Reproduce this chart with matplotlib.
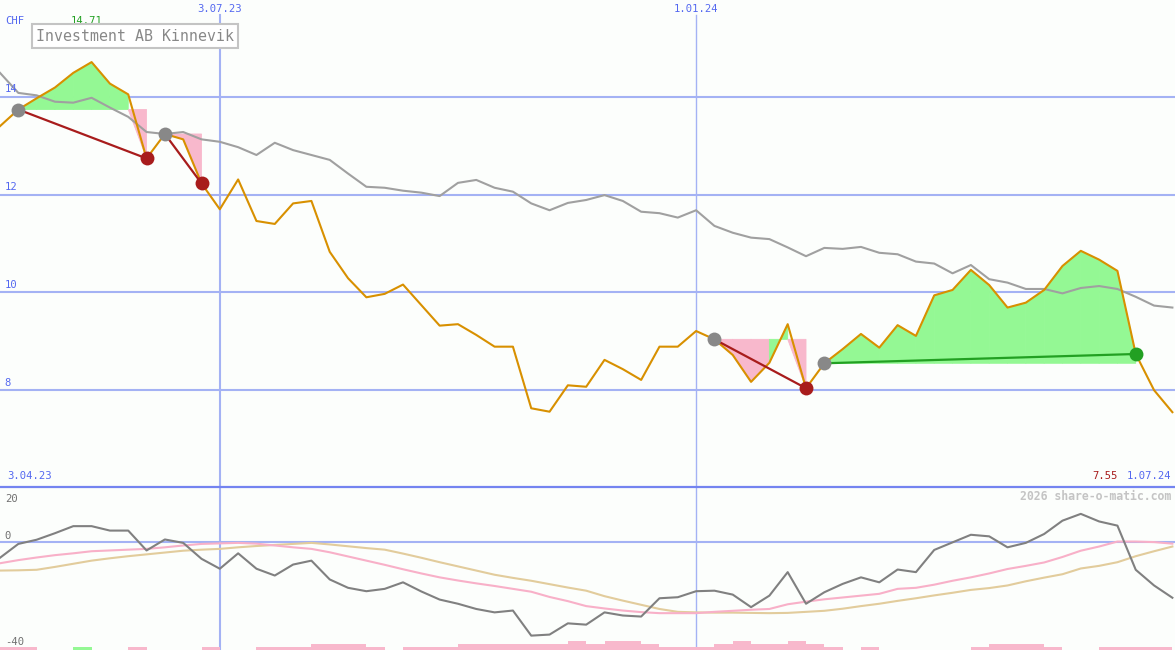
import numpy as np
import pandas as pd
import matplotlib
matplotlib.use('Agg')
import matplotlib.pyplot as plt
import matplotlib.dates as mdates
from matplotlib.patches import Rectangle
from matplotlib.lines import Line2D

# weekly closing prices (CHF)
dates = pd.date_range('2023-04-10', periods=65, freq='7D')
price = [13.40, 13.74, 13.97, 14.19, 14.49, 14.71, 14.27, 14.05, 12.74, 13.24,
         13.13, 12.23, 11.70, 12.31, 11.46, 11.40, 11.82, 11.87, 10.83, 10.29,
         9.90, 9.97, 10.16, 9.74, 9.32, 9.35, 9.13, 8.89, 8.89, 7.63,
         7.56, 8.10, 8.07, 8.62, 8.43, 8.21, 8.89, 8.89, 9.21, 9.04,
         8.72, 8.17, 8.56, 9.35, 8.04, 8.55, 8.84, 9.15, 8.87, 9.33,
         9.11, 9.94, 10.05, 10.46, 10.15, 9.69, 9.79, 10.05, 10.54, 10.85,
         10.67, 10.44, 8.74, 8.00, 7.55]
avg_line = [14.49, 14.08, 14.03, 13.90, 13.88, 13.98, 13.78, 13.59, 13.28, 13.24,
            13.28, 13.13, 13.08, 12.97, 12.81, 13.06, 12.91, 12.81, 12.71, 12.43,
            12.16, 12.14, 12.08, 12.04, 11.97, 12.24, 12.30, 12.14, 12.06, 11.82,
            11.68, 11.83, 11.89, 11.99, 11.87, 11.65, 11.62, 11.53, 11.68, 11.36,
            11.22, 11.12, 11.09, 10.92, 10.74, 10.91, 10.89, 10.93, 10.81, 10.78,
            10.63, 10.59, 10.39, 10.56, 10.27, 10.20, 10.07, 10.07, 9.98, 10.09,
            10.13, 10.07, 9.91, 9.73, 9.69]

# lower panel indicator
osc = [-6.2, -0.9, 0.7, 3.2, 5.9, 5.9, 4.2, 4.2, -3.4, 0.8,
       -0.5, -6.6, -10.4, -4.5, -10.4, -13.0, -8.8, -7.3, -14.5, -17.7,
       -19.0, -18.1, -15.6, -19.1, -22.2, -23.8, -25.8, -27.1, -26.4, -36.0,
       -35.6, -31.3, -31.8, -27.1, -28.3, -28.7, -21.7, -21.3, -19.0, -18.8,
       -20.3, -25.1, -20.7, -11.7, -23.8, -19.4, -16.2, -13.7, -15.6, -10.7,
       -11.7, -3.2, -0.3, 2.6, 2.0, -2.2, -0.5, 2.9, 8.0, 10.6,
       7.7, 6.1, -10.8, -16.8, -21.5]
osc_fast = [-8.3, -7.1, -6.1, -5.2, -4.5, -3.7, -3.4, -3.1, -2.8, -2.2,
            -1.5, -0.9, -0.7, -0.5, -0.8, -1.5, -2.2, -2.8, -4.1, -5.7,
            -7.3, -8.9, -10.6, -12.2, -13.7, -14.9, -16.0, -17.0, -18.1, -19.2,
            -21.2, -22.8, -24.7, -25.6, -26.4, -27.0, -27.4, -27.4, -27.4, -26.9,
            -26.5, -26.1, -25.8, -24.0, -23.0, -22.1, -21.4, -20.7, -20.0, -18.1,
            -17.7, -16.5, -15.0, -13.7, -12.2, -10.5, -9.3, -8.0, -5.9, -3.5,
            -1.9, 0.0, 0.0, -0.2, -0.8]
osc_slow = [-11.1, -11.0, -10.8, -9.7, -8.5, -7.3, -6.4, -5.6, -4.9, -4.2,
            -3.5, -3.1, -2.8, -2.2, -1.7, -1.3, -0.9, -0.5, -1.1, -1.8,
            -2.5, -3.1, -4.6, -6.2, -7.9, -9.5, -11.1, -12.7, -13.9, -15.0,
            -16.3, -17.6, -18.8, -20.9, -22.6, -24.2, -25.8, -26.9, -27.1, -27.2,
            -27.2, -27.3, -27.4, -27.3, -26.9, -26.5, -25.7, -24.7, -23.8, -22.7,
            -21.7, -20.6, -19.6, -18.5, -17.8, -16.8, -15.2, -13.8, -12.5, -10.3,
            -9.3, -7.9, -5.6, -3.7, -1.9]
# weekly signal bars (+ green, - pink), one per week interval
signal = [-1, -1, 0, 0, 1, 0, 0, -1, 0, 0, 0, -1, 0, 0, -1, -1, -1, -2, -2, -2,
          -1, 0, -1, -1, -1, -2, -2, -2, -2, -2, -2, -3, -2, -3, -3, -2, -1, -1, -1, -2,
          -3, -2, -2, -3, -2, -1, 0, -1, 0, 0, 0, 0, 0, -1, -2, -2, -2, -1, 0, 0,
          -1, -1, -1, -1]

# trades: (entry week, exit week)
trades = [(1, 8), (9, 11), (39, 44), (45, 62)]
marks = ['2023-07-03', '2024-01-01']

bg = '#fcfefc'
blue = '#5468f0'
grid_c = '#a4b2f4'
green_fill = '#94f894'
pink_fill = '#f8b8cc'
loss_c = '#a81c1c'
win_c = '#22a022'
mono = 'DejaVu Sans Mono'

W, H = 1175, 650
fig = plt.figure(figsize=(W / 100, H / 100), dpi=100, facecolor=bg)
ax = fig.add_axes([0, 1 - 487 / H, 1, 487 / H])
ax2 = fig.add_axes([0, 0, 1, 162 / H])

xs = mdates.date2num(dates)
step = xs[1] - xs[0]
for a in (ax, ax2):
    a.set_facecolor(bg)
    a.set_xlim(xs[0], xs[-1] + 1)
    a.set_xticks([])
    a.set_yticks([])
    for s in a.spines.values():
        s.set_visible(False)

ax.set_ylim(6.02, 15.98)
ax2.set_ylim(-41.5, 20.5)

# grid
for v in [8, 10, 12, 14]:
    ax.axhline(v, color=grid_c, lw=1.5, zorder=0)
    ax.text(0.004, v + 0.05, str(v), transform=ax.get_yaxis_transform(),
            color=blue, fontsize=7.6, family=mono, va='bottom', ha='left')
ax2.axhline(0, color=grid_c, lw=1.5, zorder=0)
for k, m in enumerate(marks):
    d = pd.Timestamp(m)
    xm = mdates.date2num(d)
    ax.axvline(xm, ymin=0, ymax=1 - 15 / 487, color=grid_c, lw=1.5 if k == 0 else 1.0, zorder=0)
    ax2.axvline(xm, color=grid_c, lw=1.5 if k == 0 else 1.0, zorder=0)
    ax.text(xm, 1 - 9 / 487, f'{d.day}.{d.month:02d}.{d:%y}', transform=ax.get_xaxis_transform(),
            color=blue, fontsize=7.6, family=mono, ha='center', va='center')

# trade fills, one polygon per weekly segment
for a, b in trades:
    lvl = price[a]
    for i in range(a, b):
        x0, x1 = xs[i], xs[i + 1]
        if price[i + 1] >= lvl:
            ax.fill([x0, x0, x1, x1], [lvl, price[i], price[i + 1], lvl],
                    facecolor=green_fill, edgecolor=green_fill, lw=0.6, zorder=1)
        else:
            ax.fill([x0, x0, x1, x1], [lvl, min(price[i], lvl), price[i + 1], lvl],
                    facecolor=pink_fill, edgecolor=pink_fill, lw=0.6, zorder=1)

ax.plot(xs, avg_line, color='#a0a0a0', lw=1.5, zorder=2)
ax.plot(xs, price, color='#d89000', lw=1.5, zorder=3)

for a, b in trades:
    c = win_c if price[b] > price[a] else loss_c
    ax.plot([xs[a], xs[b]], [price[a], price[b]], color=c, lw=1.6, zorder=4)
    ax.plot(xs[a], price[a], 'o', color='#888888', ms=10, mew=0, zorder=5)
    ax.plot(xs[b], price[b], 'o', color=c, ms=10, mew=0, zorder=5)

# labels in price panel
imax = int(np.argmax(price))
ax.annotate(f'{price[imax]:.2f}', xy=(xs[imax], 1), xycoords=('data', 'axes fraction'),
            xytext=(-5, -21), textcoords='offset pixels', color=win_c,
            fontsize=7.6, family=mono, ha='center', va='center')
fig.text(5 / W, 1 - 21 / H, 'CHF', color=blue, fontsize=7.6, family=mono, va='center')
fig.patches.append(Rectangle((32 / W, 1 - 48 / H), 206 / W, 24 / H, transform=fig.transFigure,
                             facecolor='white', edgecolor='#c4c4c4', lw=1.5))
fig.text(135 / W, 1 - 36.5 / H, 'Investment AB Kinnevik', color='#888888', fontsize=10.7,
         family=mono, ha='center', va='center')

d0 = dates[0] - pd.Timedelta(days=7)
d1 = dates[-1]
ax.text(0.006, 0.012, f'{d0.day}.{d0.month:02d}.{d0:%y}', transform=ax.transAxes,
        color=blue, fontsize=7.6, family=mono, va='bottom', ha='left')
ax.text(0.997, 0.012, f'{d1.day}.{d1.month:02d}.{d1:%y}', transform=ax.transAxes,
        color=blue, fontsize=7.6, family=mono, va='bottom', ha='right')
ax.text(0.951, 0.012, f'{price[-1]:.2f}', transform=ax.transAxes,
        color=loss_c, fontsize=7.6, family=mono, va='bottom', ha='right')
fig.add_artist(Line2D([0, 1], [1 - 487 / H, 1 - 487 / H], transform=fig.transFigure,
                      color='#7484f0', lw=1.6))

# lower panel
unit = 1.15
heights = [abs(s) * unit for s in signal]
colors = [green_fill if s > 0 else pink_fill for s in signal]
ax2.bar(xs[:-1], heights, width=step, align='edge', bottom=-41.5, color=colors, lw=0, zorder=1)
ax2.plot(xs, osc_slow, color='#e2cc9c', lw=1.5, zorder=2)
ax2.plot(xs, osc_fast, color='#f8b0c8', lw=1.5, zorder=3)
ax2.plot(xs, osc, color='#808080', lw=1.5, zorder=4)

ax2.text(0.004, 1 - 11 / 162, '20', transform=ax2.transAxes, color='#707070',
         fontsize=7.6, family=mono, va='center')
ax2.text(0.004, 0.3, '0', transform=ax2.get_yaxis_transform(), color='#707070',
         fontsize=7.6, family=mono, va='bottom')
ax2.text(0.004, 8 / 162, '-40', transform=ax2.transAxes, color='#707070',
         fontsize=7.6, family=mono, va='center')
ax2.text(0.997, 1 - 9 / 162, '2026 share-o-matic.com', transform=ax2.transAxes,
         color='#c4c4c4', fontsize=8.3, family=mono, fontweight='bold', ha='right', va='center')

fig.savefig('out.png', dpi=100, facecolor=bg)
